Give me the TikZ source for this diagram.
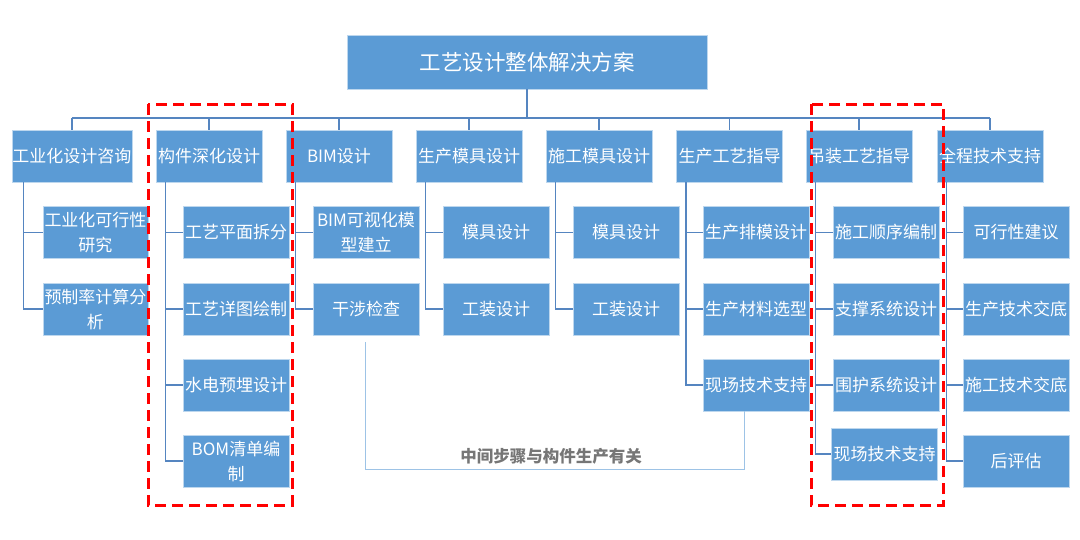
\documentclass[tikz,border=0pt]{standalone}
\usepackage{fontspec}
\setmainfont{Noto Sans CJK SC}
\newfontfamily\cjk{Noto Sans CJK SC}
\begin{document}
\begin{tikzpicture}[x=1pt,y=-1pt,
  box/.style={fill=boxblue,draw=boxedge,line width=0.8pt,text=white,inner sep=0pt,
    minimum height=52pt,align=center,font=\cjk\fontsize{17}{25}\selectfont},
  lone/.style={box,minimum width=120pt},
  lvl/.style={box,minimum width=106pt},
  kid/.style={box,minimum width=106pt},
  tree/.style={draw=treeline,line width=1.3pt},
  bracket/.style={draw=brackline,line width=1pt},
  reddash/.style={draw=red,line width=3pt,dash pattern=on 11pt off 6pt}]
\definecolor{boxblue}{HTML}{5B9BD5}
\definecolor{boxedge}{HTML}{BDD7EE}
\definecolor{treeline}{HTML}{5585C0}
\definecolor{brackline}{HTML}{9DC3E6}
\definecolor{labgray}{HTML}{767676}
\useasboundingbox (0,0) rectangle (1080,539);
\fill[white] (0,0) rectangle (1080,539);
% root
\node[box,minimum width=360pt,minimum height=54pt,font=\cjk\fontsize{21.5}{25}\selectfont] (root) at (527,62) {工艺设计整体解决方案};
% level 1
\node[lone] (a) at (72,156) {工业化设计咨询};
\node[lvl] (b) at (209,156) {构件深化设计};
\node[lvl] (c) at (339,156) {BIM设计};
\node[lvl] (d) at (469,156) {生产模具设计};
\node[lvl] (e) at (599,156) {施工模具设计};
\node[lvl] (f) at (729.5,156) {生产工艺指导};
\node[lvl] (g) at (859,156) {吊装工艺指导};
\node[lvl] (h) at (990,156) {全程技术支持};
% children
\node[kid,minimum width=105pt] (a1) at (95.5,232.5) {工业化可行性\\研究};
\node[kid,minimum width=105pt] (a2) at (95.5,309) {预制率计算分\\析};
\node[kid] (b1) at (236,232.5) {工艺平面拆分};
\node[kid] (b2) at (236,309) {工艺详图绘制};
\node[kid] (b3) at (236,385) {水电预埋设计};
\node[kid] (b4) at (236,461) {BOM清单编\\制};
\node[kid] (c1) at (366,232.5) {BIM可视化模\\型建立};
\node[kid] (c2) at (366,309) {干涉检查};
\node[kid] (d1) at (496,232.5) {模具设计};
\node[kid] (d2) at (496,309) {工装设计};
\node[kid] (e1) at (626,232.5) {模具设计};
\node[kid] (e2) at (626,309) {工装设计};
\node[kid] (f1) at (756,232.5) {生产排模设计};
\node[kid] (f2) at (756,309) {生产材料选型};
\node[kid] (f3) at (756,385) {现场技术支持};
\node[kid] (g1) at (886,232.5) {施工顺序编制};
\node[kid] (g2) at (886,309) {支撑系统设计};
\node[kid] (g3) at (886,385) {围护系统设计};
\node[kid] (g4) at (884.5,454) {现场技术支持};
\node[kid] (h1) at (1016,232.5) {可行性建议};
\node[kid] (h2) at (1016,309) {生产技术交底};
\node[kid] (h3) at (1016,385) {施工技术交底};
\node[kid] (h4) at (1016,461) {后评估};
% bus
\coordinate (bus) at (0,118);
\draw[tree] (root.south) -- (root.south |- bus);
\draw[tree] (a.north |- bus) -- (h.north |- bus);
\foreach \p in {a,b,c,d,e,f,g,h} \draw[tree] (\p.north) -- (\p.north |- bus);
% child connectors
\foreach \k in {1,2} \draw[tree] ([xshift=12pt]a.south west) |- (a\k.west);
\foreach \k in {1,2,3,4} \draw[tree] ([xshift=10pt]b.south west) |- (b\k.west);
\foreach \k in {1,2} \draw[tree] ([xshift=10pt]c.south west) |- (c\k.west);
\foreach \k in {1,2} \draw[tree] ([xshift=10pt]d.south west) |- (d\k.west);
\foreach \k in {1,2} \draw[tree] ([xshift=10pt]e.south west) |- (e\k.west);
\foreach \k in {1,2,3} \draw[tree] ([xshift=10pt]f.south west) |- (f\k.west);
\foreach \k in {1,2,3,4} \draw[tree] ([xshift=10pt]g.south west) |- (g\k.west);
\foreach \k in {1,2,3,4} \draw[tree] ([xshift=10pt]h.south west) |- (h\k.west);
% bracket
\coordinate (brR) at (744,469);
\draw[bracket] ([yshift=-7pt,xshift=-1pt]c2.south) |- (brR) -- ([xshift=-12pt]f3.south);
\node[font=\cjk\bfseries\fontsize{16.5}{18}\selectfont,text=labgray,inner sep=0pt] (lab) at (551,456) {中间步骤与构件生产有关};
% red dashed frames
\draw[reddash] (148,104) rectangle (292,505);
\draw[reddash] (811,104) rectangle (943,505);
\end{tikzpicture}
\end{document}
